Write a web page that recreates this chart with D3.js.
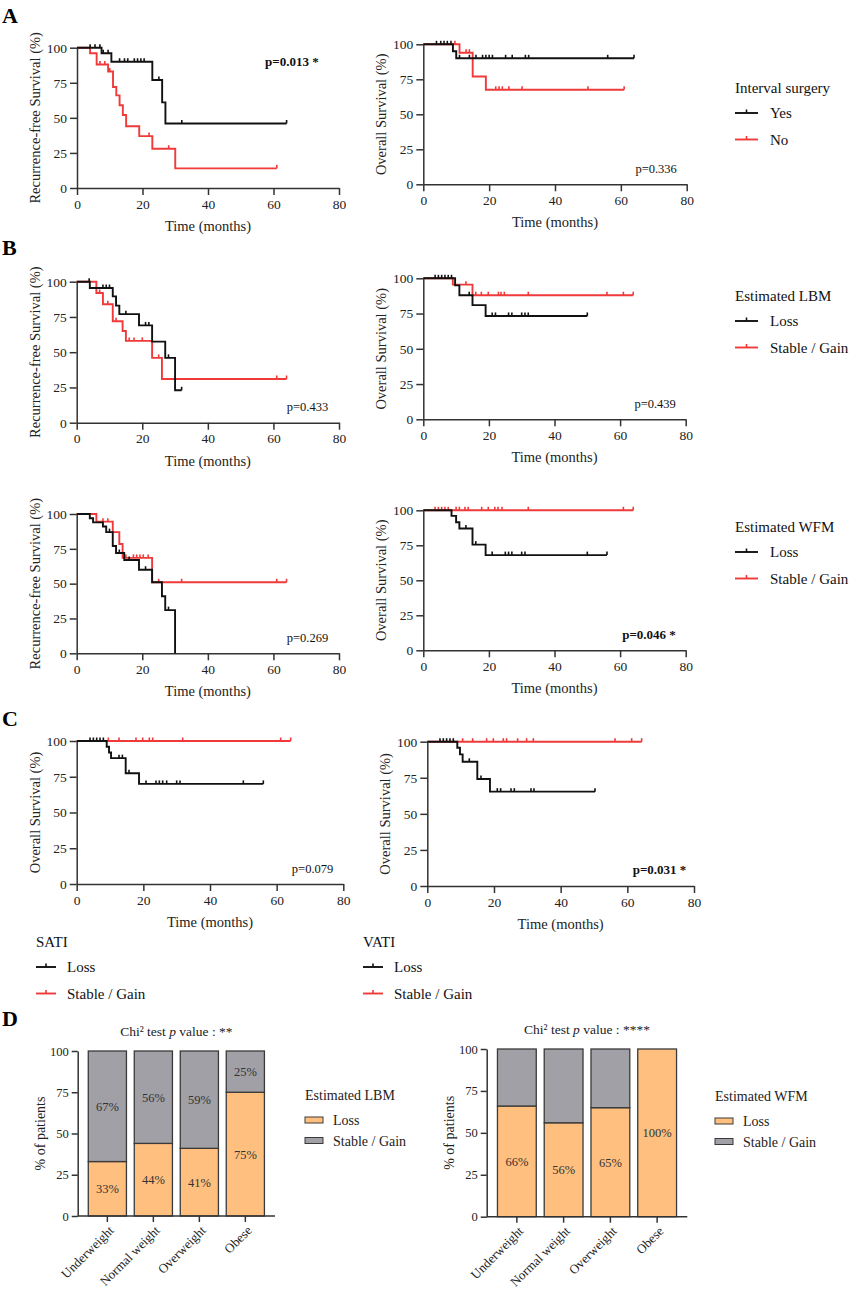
<!DOCTYPE html>
<html>
<head>
<meta charset="utf-8">
<script src="https://cdn.jsdelivr.net/npm/d3@7"></script>
<style>
  body { margin: 0; background: #fff; }
  svg { display: block; font-family: "Liberation Serif", "Times New Roman", serif; }
</style>
</head>
<body>
<div id="chart"></div>
<script>
/*global d3*/
// ---------- data ----------
const timeTicks = [0, 20, 40, 60, 80]
const survTicks = [0, 25, 50, 75, 100]

// A : interval surgery (RFS)
const rfsYesSteps = [[0, 100], [7.5, 96], [10.5, 90], [23, 77], [26, 61], [27, 46]]
const rfsYesCensor = [4, 5.5, 7, 8, 9.5, 13, 14.5, 15.5, 17.5, 18.5, 19.5, 20.5, 25, 32, 64]
const rfsNoSteps = [[0, 100], [4, 96], [6, 88], [9.5, 83], [11, 72], [12, 66], [13, 59], [14, 52], [15, 44], [19, 37], [23, 28], [30, 14]]
const rfsNoCensor = [7, 8.5, 10, 22, 28, 61]
// A : interval surgery (OS)
const osYesSteps = [[0, 100], [9, 95], [10, 90]]
const osYesCensor = [4, 5.3, 6.3, 7.3, 8.4, 11, 14, 16, 18, 19, 20, 21, 25, 27, 31, 32, 56, 64]
const osNoSteps = [[0, 100], [11, 94], [15, 77], [19, 67.5]]
const osNoCensor = [9.6, 13, 14, 22, 23, 24, 26, 30, 50, 61]

// B : estimated LBM
const rfsLbmLossSteps = [[0, 100], [4, 95.5], [11, 89.6], [12, 83], [13, 77], [19, 69], [23, 57.5], [27, 46], [30, 23]]
const rfsLbmLossCensor = [3.8, 8, 9, 10, 15, 21, 22, 28, 32]
const rfsLbmGainSteps = [[0, 100], [6, 92], [8, 84], [11, 72], [14, 65], [15, 58], [23, 46], [26, 31]]
const rfsLbmGainCensor = [7, 9.5, 12, 16, 17.5, 20, 25, 61, 64]
const osLbmLossSteps = [[0, 100], [9.7, 95], [11, 88], [15, 81], [19, 73.3]]
const osLbmLossCensor = [3.6, 4.6, 5.6, 6.6, 7.6, 8.6, 14, 21, 22, 26, 27, 30, 31, 32, 50]
const osLbmGainSteps = [[0, 100], [9, 95.5], [15, 88]]
const osLbmGainCensor = [13, 16, 17.7, 19.8, 22.9, 23.7, 24.7, 32, 56, 61, 64]

// B : estimated WFM
const rfsWfmLossSteps = [[0, 100], [4, 97], [5, 94], [8, 91], [9, 87], [11, 77], [12, 72], [14.5, 67], [19, 60], [23, 51], [26, 41], [27, 31], [30, 0]]
const rfsWfmLossCensor = [10, 13, 16, 21, 28]
const rfsWfmGainSteps = [[0, 100], [6, 94.5], [11, 87], [13, 78.5], [14, 68.5], [23, 51]]
const rfsWfmGainCensor = [8, 9.5, 15, 17.3, 18.3, 19.3, 20.3, 21.8, 25, 32, 61, 64]
const osWfmLossSteps = [[0, 100], [8.6, 96], [10, 91.5], [11, 87], [15, 75.5], [19, 68]]
const osWfmLossCensor = [13, 16, 21, 25, 26, 27, 30, 31, 50, 56]
const osWfmGainSteps = [[0, 100]]
const osWfmGainCensor = [3.6, 4.6, 5.6, 6.6, 7.6, 10, 11, 12.7, 13.7, 17.8, 19.8, 21.8, 22.8, 24, 32, 61, 64]

// C : SATI / VATI (OS)
const osSatiLossSteps = [[0, 100], [9, 96], [9.7, 92], [10.3, 88], [14.7, 77.4], [18.7, 70]]
const osSatiLossCensor = [4, 5, 6, 7, 8, 12.7, 13.7, 15.7, 20.8, 23.8, 24.8, 25.8, 27, 30, 31, 50, 56]
const osSatiGainSteps = [[0, 100]]
const osSatiGainCensor = [9.5, 12.7, 17.8, 19.8, 21.8, 22.8, 31.8, 61.2, 64.2]
const osVatiLossSteps = [[0, 100], [9, 95.8], [9.8, 91.2], [10.6, 86.1], [15, 74.1], [18.8, 65.4]]
const osVatiLossCensor = [3.8, 4.8, 5.8, 6.8, 7.8, 12.6, 16.1, 21, 22, 25.1, 26.1, 31.1, 32, 50.3]
const osVatiGainSteps = [[0, 100]]
const osVatiGainCensor = [10.6, 13.6, 17.8, 19.8, 22.8, 23.8, 27.1, 29.8, 31.8, 56.3, 61.3, 64.3]

// D : BMI categories
const bmiCategories = ["Underweight", "Normal weight", "Overweight", "Obese"]
const lbmLoss = [33, 44, 41, 75]
const lbmGain = [67, 56, 59, 25]
const wfmLoss = [66, 56, 65, 100]
const wfmGain = [34, 44, 35, 0]

// ---------- style ----------
const BLACK = "#111"
const RED = "#f03a3a"
const AXIS = "#333"
const ORANGE = "#ffbf7e"
const GREY = "#a0a0a6"

const svg = d3.select("#chart").append("svg").attr("width", 858).attr("height", 1292)

function styleAxis(g, size) {
  g.attr("font-family", null).attr("font-size", size)
  g.select(".domain").attr("stroke", AXIS).attr("stroke-width", 1.5)
  g.selectAll(".tick line").attr("stroke", AXIS).attr("stroke-width", 1.5)
  g.selectAll(".tick text").attr("fill", "#222")
}

function survAt(steps, t) {
  let s = steps[0][1]
  steps.forEach(d => { if (d[0] <= t) s = d[1] })
  return s
}

function drawKM(p) {
  let g = svg.append("g")
  let x = d3.scaleLinear().domain([0, 80]).range([p.x0, p.x1])
  let y = d3.scaleLinear().domain([0, 100]).range([p.yb, p.yt])

  g.append("g").attr("transform", `translate(0,${p.yb})`)
    .call(d3.axisBottom(x).tickValues(timeTicks).tickSize(7).tickSizeOuter(0).tickPadding(4))
    .call(a => styleAxis(a, 13.5))
  g.append("g").attr("transform", `translate(${p.x0},0)`)
    .call(d3.axisLeft(y).tickValues(survTicks).tickSize(7).tickSizeOuter(0).tickPadding(3))
    .call(a => styleAxis(a, 13.5))

  g.append("text").attr("x", (p.x0 + p.x1) / 2).attr("y", p.yb + 43)
    .attr("text-anchor", "middle").attr("font-size", 14.5).attr("fill", "#222").text("Time (months)")
  g.append("text").attr("transform", `translate(${p.x0 - 42},${(p.yt + p.yb) / 2}) rotate(-90)`)
    .attr("text-anchor", "middle").attr("dy", "0.35em").attr("font-size", 14.5).attr("fill", "#222").text(p.ylab)

  let line = d3.line().x(d => x(d[0])).y(d => y(d[1])).curve(d3.curveStepAfter)
  p.series.forEach(s => {
    let last = s.steps[s.steps.length - 1]
    let end = Math.max(last[0], d3.max(s.censor) || 0)
    let pts = s.steps.concat([[end, last[1]]])
    g.append("path").attr("d", line(pts)).attr("fill", "none")
      .attr("stroke", s.color).attr("stroke-width", 1.9)
    g.selectAll(null).data(s.censor).join("line")
      .attr("x1", d => x(d)).attr("x2", d => x(d))
      .attr("y1", d => y(survAt(s.steps, d)))
      .attr("y2", d => y(survAt(s.steps, d)) - 3.5)
      .attr("stroke", s.color).attr("stroke-width", 1.6)
  })

  g.append("text").attr("x", x(p.pt[0])).attr("y", y(p.pt[1]))
    .attr("text-anchor", "end").attr("font-size", p.bold ? 13 : 12.5)
    .attr("font-weight", p.bold ? "bold" : "normal").attr("fill", "#111").text(p.ptext)
}

function drawKMLegend(x, y, title, labels, lineW, gap) {
  let g = svg.append("g")
  g.append("text").attr("x", x).attr("y", y).attr("font-size", 15).attr("fill", "#111").text(title)
  labels.forEach((lab, i) => {
    let cy = y + 20 + i * 26.5
    let col = i === 0 ? BLACK : RED
    g.append("line").attr("x1", x).attr("x2", x + lineW).attr("y1", cy).attr("y2", cy)
      .attr("stroke", col).attr("stroke-width", 1.9)
    g.append("line").attr("x1", x + lineW / 2).attr("x2", x + lineW / 2).attr("y1", cy).attr("y2", cy - 3.5)
      .attr("stroke", col).attr("stroke-width", 1.6)
    g.append("text").attr("x", x + lineW + gap).attr("y", cy + 5).attr("font-size", 15).attr("fill", "#111").text(lab)
  })
}

function panelLetter(ch, x, y) {
  svg.append("text").attr("x", x).attr("y", y).attr("font-size", 22).attr("font-weight", "bold")
    .attr("fill", "#000").text(ch)
}

const RFS = "Recurrence-free Survival (%)"
const OS = "Overall Survival (%)"
const lossGain = ["Loss", "Stable / Gain"]

// ---------- KM panels ----------
drawKM({ x0: 77, x1: 339, yt: 47.7, yb: 188, ylab: RFS, pt: [73.8, 87], ptext: "p=0.013 *", bold: true,
  series: [{ steps: rfsNoSteps, censor: rfsNoCensor, color: RED }, { steps: rfsYesSteps, censor: rfsYesCensor, color: BLACK }] })
drawKM({ x0: 423.3, x1: 686.7, yt: 44.3, yb: 184.3, ylab: OS, pt: [77, 8], ptext: "p=0.336",
  series: [{ steps: osNoSteps, censor: osNoCensor, color: RED }, { steps: osYesSteps, censor: osYesCensor, color: BLACK }] })

drawKM({ x0: 76.7, x1: 339, yt: 281.7, yb: 422.7, ylab: RFS, pt: [76.7, 8], ptext: "p=0.433",
  series: [{ steps: rfsLbmGainSteps, censor: rfsLbmGainCensor, color: RED }, { steps: rfsLbmLossSteps, censor: rfsLbmLossCensor, color: BLACK }] })
drawKM({ x0: 423.3, x1: 685.7, yt: 278.3, yb: 419.3, ylab: OS, pt: [77, 8], ptext: "p=0.439",
  series: [{ steps: osLbmGainSteps, censor: osLbmGainCensor, color: RED }, { steps: osLbmLossSteps, censor: osLbmLossCensor, color: BLACK }] })

drawKM({ x0: 76.7, x1: 339, yt: 514, yb: 653.3, ylab: RFS, pt: [76.7, 8], ptext: "p=0.269",
  series: [{ steps: rfsWfmGainSteps, censor: rfsWfmGainCensor, color: RED }, { steps: rfsWfmLossSteps, censor: rfsWfmLossCensor, color: BLACK }] })
drawKM({ x0: 423.3, x1: 685.7, yt: 510.3, yb: 650.3, ylab: OS, pt: [77, 8], ptext: "p=0.046 *", bold: true,
  series: [{ steps: osWfmGainSteps, censor: osWfmGainCensor, color: RED }, { steps: osWfmLossSteps, censor: osWfmLossCensor, color: BLACK }] })

drawKM({ x0: 76.7, x1: 343.3, yt: 741, yb: 884, ylab: OS, pt: [77, 8], ptext: "p=0.079",
  series: [{ steps: osSatiGainSteps, censor: osSatiGainCensor, color: RED }, { steps: osSatiLossSteps, censor: osSatiLossCensor, color: BLACK }] })
drawKM({ x0: 427.3, x1: 694, yt: 741.7, yb: 886, ylab: OS, pt: [77.7, 8], ptext: "p=0.031 *", bold: true,
  series: [{ steps: osVatiGainSteps, censor: osVatiGainCensor, color: RED }, { steps: osVatiLossSteps, censor: osVatiLossCensor, color: BLACK }] })

drawKMLegend(735, 93, "Interval surgery", ["Yes", "No"], 23, 12)
drawKMLegend(735, 301, "Estimated LBM", lossGain, 23, 12)
drawKMLegend(735, 532, "Estimated WFM", lossGain, 23, 12)
drawKMLegend(36, 947, "SATI", lossGain, 20, 11)
drawKMLegend(363, 947, "VATI", lossGain, 20, 11)

panelLetter("A", 2, 23)
panelLetter("B", 2, 255)
panelLetter("C", 2, 726)
panelLetter("D", 2, 1026)

// ---------- D : stacked bars ----------
function drawBars(p) {
  let g = svg.append("g")
  let x = d3.scaleBand().domain(bmiCategories).range([p.x0, p.x1]).paddingInner(0.17).paddingOuter(0.23)
  let y = d3.scaleLinear().domain([0, 100]).range([p.yb, p.yt])
  let rows = bmiCategories.map((c, i) => ({ cat: c, loss: p.loss[i], gain: p.gain[i] }))
  let stack = d3.stack().keys(["loss", "gain"])(rows)
  let color = { loss: ORANGE, gain: GREY }

  stack.forEach(layer => {
    g.selectAll(null).data(layer).join("rect")
      .attr("x", d => x(d.data.cat)).attr("width", x.bandwidth())
      .attr("y", d => y(d[1])).attr("height", d => y(d[0]) - y(d[1]))
      .attr("fill", color[layer.key]).attr("stroke", "#3a3a3a").attr("stroke-width", 1.3)
    g.selectAll(null).data(layer.filter(d => d[1] - d[0] > 0 && (layer.key === "loss" || p.labelGain))).join("text")
      .attr("x", d => x(d.data.cat) + x.bandwidth() / 2).attr("y", d => y((d[0] + d[1]) / 2))
      .attr("dy", "0.35em").attr("text-anchor", "middle").attr("font-size", 12.5).attr("fill", "#333")
      .text(d => d.data[layer.key] + "%")
  })

  g.append("g").attr("transform", `translate(0,${p.yb})`)
    .call(d3.axisBottom(x).tickSize(6).tickSizeOuter(0))
    .call(a => styleAxis(a, 13))
    .call(a => a.select(".domain").attr("d", `M${p.x0},0H${p.x1}`))
    .selectAll(".tick text").attr("x", 0).attr("y", 0).attr("dy", "0.35em")
    .attr("transform", "translate(4,12) rotate(-45)").attr("text-anchor", "end")
  g.append("g").attr("transform", `translate(${p.x0},0)`)
    .call(d3.axisLeft(y).tickValues(survTicks).tickSize(6).tickSizeOuter(0).tickPadding(3))
    .call(a => styleAxis(a, 12.5))

  g.append("text").attr("transform", `translate(${p.x0 - 38},${(p.yt + p.yb) / 2}) rotate(-90)`)
    .attr("text-anchor", "middle").attr("dy", "0.35em").attr("font-size", 14).attr("fill", "#222").text("% of patients")

  let t = g.append("text").attr("x", (p.x0 + p.x1) / 2).attr("y", p.yt - 15)
    .attr("text-anchor", "middle").attr("font-size", 13.5).attr("fill", "#222")
  t.append("tspan").text("Chi² test ")
  t.append("tspan").attr("font-style", "italic").text("p")
  t.append("tspan").text(" value : " + p.stars)

  let lg = g.append("g")
  lg.append("text").attr("x", p.lx).attr("y", p.ly).attr("font-size", 14).attr("fill", "#222").text(p.legTitle)
  ;[["Loss", ORANGE], ["Stable / Gain", GREY]].forEach(([lab, col], i) => {
    let cy = p.ly + 20 + i * 20.5
    lg.append("rect").attr("x", p.lx).attr("y", cy - 3).attr("width", 18).attr("height", 6)
      .attr("fill", col).attr("stroke", "#3a3a3a").attr("stroke-width", 1)
    lg.append("text").attr("x", p.lx + 28).attr("y", cy + 5).attr("font-size", 14).attr("fill", "#222").text(lab)
  })
}

drawBars({ x0: 77.7, x1: 275, yt: 1051, yb: 1216, loss: lbmLoss, gain: lbmGain, labelGain: true,
  stars: "**", legTitle: "Estimated LBM", lx: 305, ly: 1100 })
drawBars({ x0: 486.7, x1: 687.3, yt: 1049, yb: 1216.7, loss: wfmLoss, gain: wfmGain, labelGain: false,
  stars: "****", legTitle: "Estimated WFM", lx: 715, ly: 1101 })
</script>
</body>
</html>
